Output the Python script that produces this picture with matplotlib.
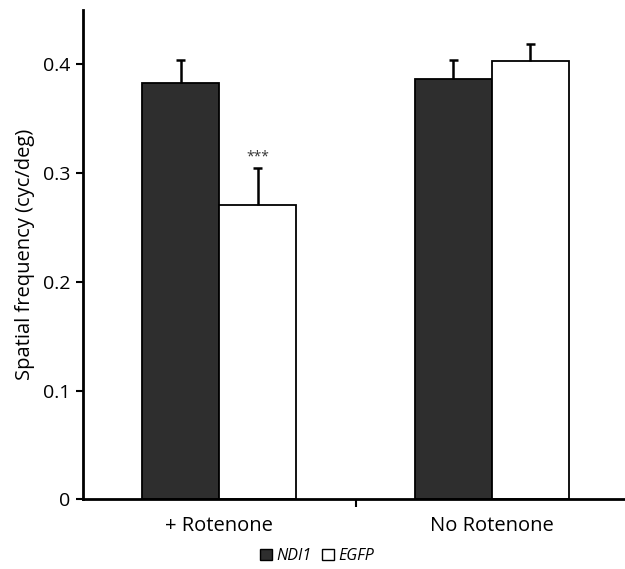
import matplotlib
matplotlib.use('Agg')
from matplotlib import pyplot as plt
from matplotlib.patches import Patch

plt.rcParams['font.family'] = ['Open Sans', 'DejaVu Sans']

# data
groups = ['+ Rotenone', 'No Rotenone']
ndi1 = [0.383, 0.387]
ndi1_err = [0.021, 0.017]
egfp = [0.271, 0.403]
egfp_err = [0.034, 0.016]
stars = ['***', '']

fig = plt.figure(figsize=(6.25, 5.69), dpi=100)
ax = fig.add_axes([83 / 625, 1 - 499.3 / 569, 545 / 625, 489.3 / 569])

x = [0, 1]
w = 0.283
cap = 0.016
xn = [i - w / 2 for i in x]
xe = [i + w / 2 for i in x]
ax.bar(xn, ndi1, w, color='#2e2e2e', edgecolor='black', linewidth=1.3, zorder=2)
ax.bar(xe, egfp, w, color='white', edgecolor='black', linewidth=1.3, zorder=2)

# upper error bars only (no cap at the bar top)
for xs, ys, es in [(xn, ndi1, ndi1_err), (xe, egfp, egfp_err)]:
    for xi, yi, ei in zip(xs, ys, es):
        ax.vlines(xi, yi, yi + ei, color='black', linewidth=1.8, zorder=3)
        ax.hlines(yi + ei, xi - cap, xi + cap, color='black', linewidth=1.8, zorder=3)

for i in x:
    if stars[i]:
        ax.text(xe[i], egfp[i] + egfp_err[i] + 0.003, stars[i], ha='center',
                va='bottom', fontsize=10, color='#333333')

ax.set_xlim(-0.5, 1.5)
ax.set_ylim(0, 0.45)
ax.set_yticks([0, 0.1, 0.2, 0.3, 0.4])
ax.set_yticklabels(['0', '0.1', '0.2', '0.3', '0.4'])
ax.set_xticks([0.5])
ax.set_xticklabels([''])
for i in x:
    ax.text(i, -0.0155, groups[i], ha='center', va='top', fontsize=14.5)
ax.tick_params(axis='y', direction='out', length=5, width=1.5, labelsize=14, pad=4)
ax.tick_params(axis='x', direction='out', length=6, width=1.5)
ax.spines['top'].set_visible(False)
ax.spines['right'].set_visible(False)
ax.spines['left'].set_linewidth(2)
ax.spines['bottom'].set_linewidth(2)
ax.set_ylabel('Spatial frequency (cyc/deg)', fontsize=14.5, labelpad=6)

handles = [Patch(facecolor='#2e2e2e', edgecolor='black', label='NDI1'),
           Patch(facecolor='white', edgecolor='black', label='EGFP')]
fig.legend(handles=handles, loc='center', bbox_to_anchor=(317 / 625, 1 - 556 / 569),
           ncol=2, frameon=False, prop={'style': 'italic', 'size': 11.5},
           handlelength=0.75, handleheight=0.75, handletextpad=0.25,
           columnspacing=0.7, borderpad=0)

plt.savefig('out.png', dpi=100)
